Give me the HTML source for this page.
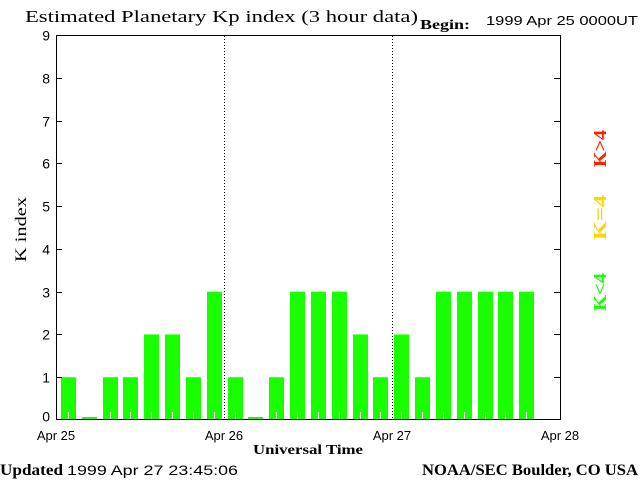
<!DOCTYPE html>
<html><head><style>body{margin:0;background:#fff}svg{display:block}</style></head><body>
<svg width="640" height="480" xmlns="http://www.w3.org/2000/svg" font-family="Liberation Sans, sans-serif">
<rect width="640" height="480" fill="#fff"/>
<text x="25" y="22" font-family="Liberation Serif, serif" font-size="17" textLength="393" lengthAdjust="spacingAndGlyphs">Estimated Planetary Kp index (3 hour data)</text>
<text x="420" y="29" font-family="Liberation Serif, serif" font-size="14" font-weight="bold" textLength="50" lengthAdjust="spacingAndGlyphs">Begin:</text>
<text x="486" y="25" font-size="13" textLength="152" lengthAdjust="spacingAndGlyphs">1999 Apr 25 0000UT</text>
<g fill="#1aff00" id="bars"></g>
<rect x="56.5" y="35.5" width="504" height="384" fill="none" stroke="#000"/>
<line x1="224.5" y1="36" x2="224.5" y2="419" stroke="#000" stroke-dasharray="1,2"/>
<line x1="392.5" y1="36" x2="392.5" y2="419" stroke="#000" stroke-dasharray="1,2"/>
<g id="ticks" stroke="#000"></g>
<g id="yl" font-size="14" text-anchor="end"></g>
<g font-size="13" text-anchor="middle">
<text x="56" y="440">Apr 25</text><text x="224" y="440">Apr 26</text><text x="392" y="440">Apr 27</text><text x="560" y="440">Apr 28</text>
</g>
<text x="253" y="454" font-family="Liberation Serif, serif" font-size="14" font-weight="bold" textLength="110" lengthAdjust="spacingAndGlyphs">Universal Time</text>
<text transform="translate(26,262) rotate(-90)" font-family="Liberation Serif, serif" font-size="16" textLength="65" lengthAdjust="spacingAndGlyphs">K index</text>
<text transform="translate(606,167) rotate(-90)" font-family="Liberation Serif, serif" font-size="18" font-weight="bold" fill="#ff2200" textLength="37" lengthAdjust="spacingAndGlyphs">K&gt;4</text>
<text transform="translate(606,240) rotate(-90)" font-family="Liberation Serif, serif" font-size="18" font-weight="bold" fill="#ffd400" textLength="45" lengthAdjust="spacingAndGlyphs">K=4</text>
<text transform="translate(606,311) rotate(-90)" font-family="Liberation Serif, serif" font-size="18" font-weight="bold" fill="#1aff00" textLength="38" lengthAdjust="spacingAndGlyphs">K&lt;4</text>
<text x="0" y="475" font-family="Liberation Serif, serif" font-size="16" font-weight="bold" textLength="63" lengthAdjust="spacingAndGlyphs">Updated</text>
<text x="67" y="475" font-size="14" textLength="171" lengthAdjust="spacingAndGlyphs">1999 Apr 27 23:45:06</text>
<text x="422" y="475" font-family="Liberation Serif, serif" font-size="16" font-weight="bold" textLength="216" lengthAdjust="spacingAndGlyphs">NOAA/SEC Boulder, CO USA</text>
<script>
var v=[1,0,1,1,2,2,1,3,1,0,1,3,3,3,2,1,2,1,3,3,3,3,3],s=42.78,ns="http://www.w3.org/2000/svg";
var b=document.getElementById('bars');
function el(n,a,p){var e=document.createElementNS(ns,n);for(var k in a)e.setAttribute(k,a[k]);p.appendChild(e);return e;}
v.forEach(function(k,i){var x=Math.round(61+20.83*i),h=k?k*s:3;el('rect',{x:x,y:420-h,width:15,height:h},b);
if(k)el('rect',{x:x+7,y:412,width:1,height:8,fill:'#fff'},b);});
var t=document.getElementById('ticks'),yl=document.getElementById('yl');
for(var i=0;i<=9;i++){var y=Math.round(420-i*s)+0.5;
if(i>0&&i<9){el('line',{x1:56,y1:y,x2:62,y2:y},t);el('line',{x1:554,y1:y,x2:560,y2:y},t);}
var tx=el('text',{x:50,y:(i==0?y+1:y+5)},yl);tx.textContent=i;}
</script>
</svg>
</body></html>
